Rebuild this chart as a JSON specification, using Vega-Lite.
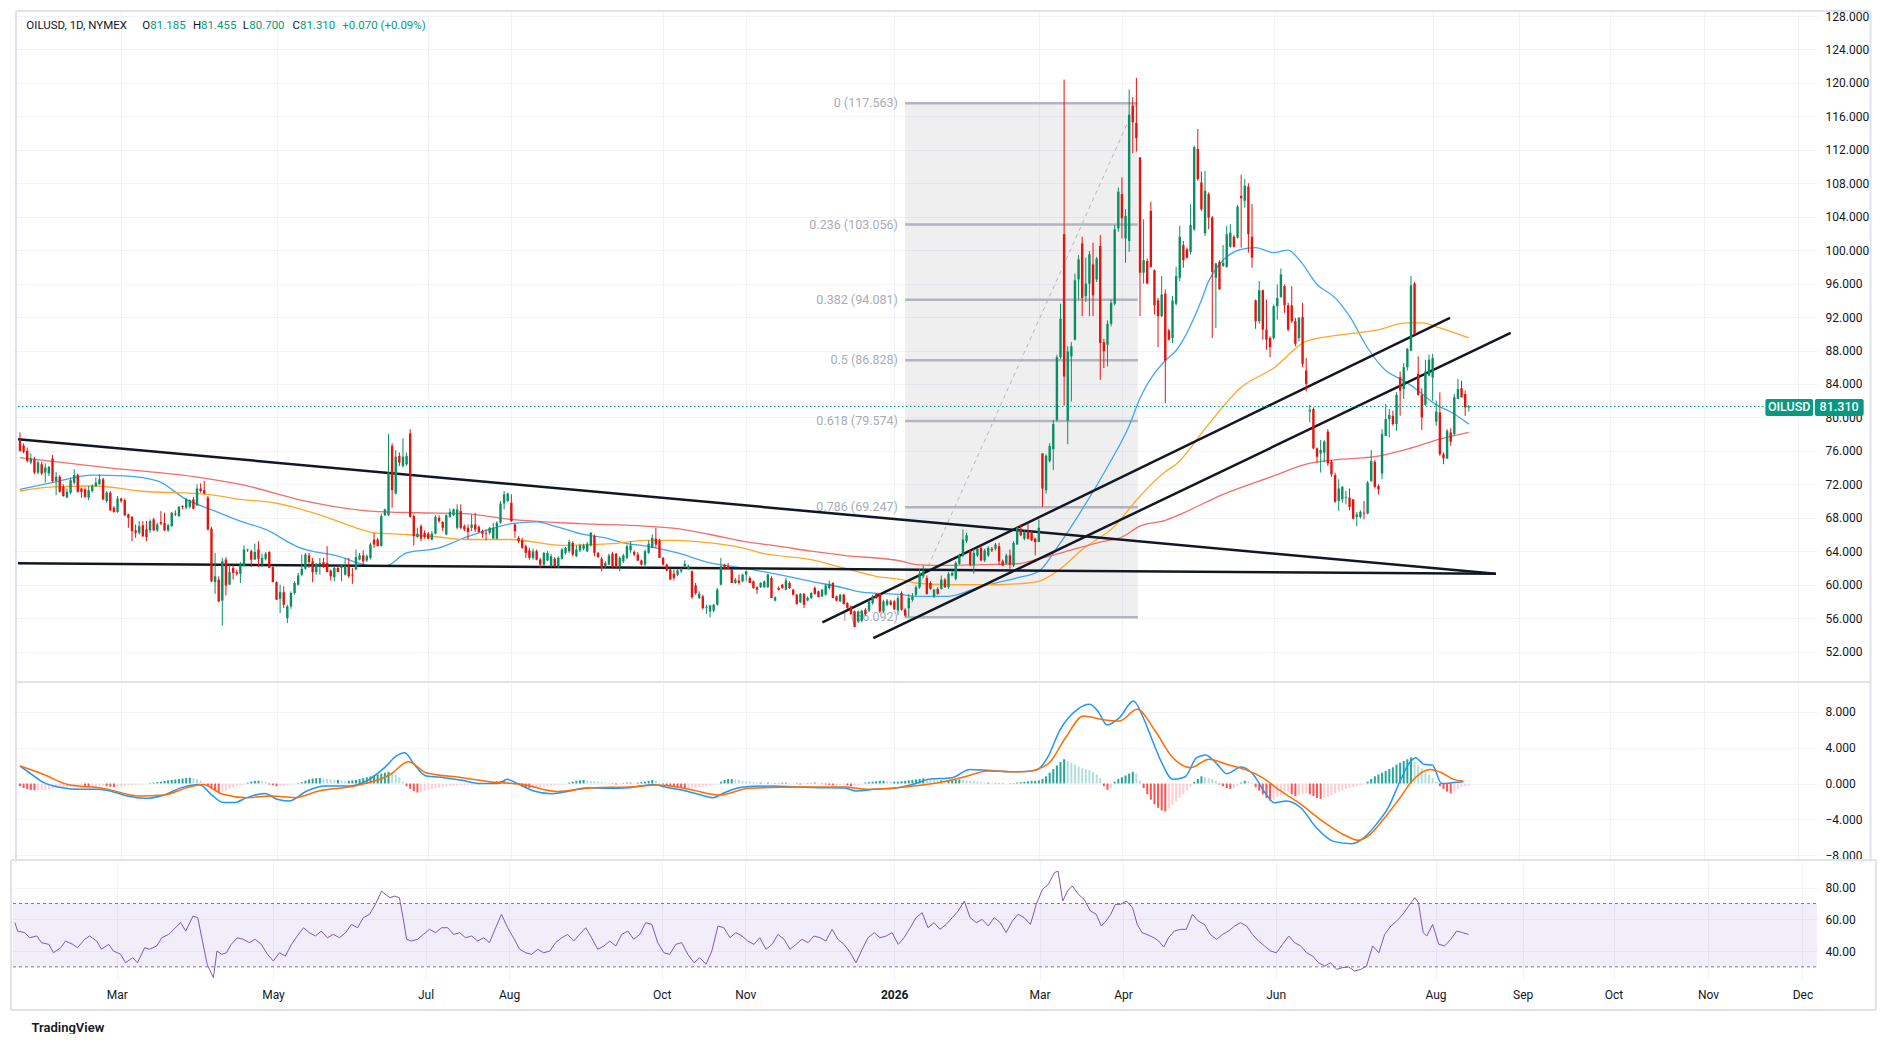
{
  "$schema": "https://vega.github.io/schema/vega-lite/v6.json",
  "background": "white",
  "padding": {"left": 10, "top": 9, "right": 0, "bottom": 0},
  "spacing": 2,
  "bounds": "flush",
  "config": {
    "font": "Roboto",
    "view": {"stroke": null},
    "axis": {"gridColor": "#f0f3fa", "gridWidth": 1, "domain": false, "ticks": false, "labelColor": "#131722", "labelFontSize": 12, "labelFlush": false, "labelFont": "Roboto"}
  },
  "datasets": {
    "bars": [
      {"i":0,"o":77.2,"h":78.2,"l":75.9,"c":76.0,"m":-0.3},
      {"i":1,"o":76.6,"h":76.9,"l":75.7,"c":75.9,"m":-0.5},
      {"i":2,"o":76.0,"h":76.4,"l":74.6,"c":74.8,"m":-0.6},
      {"i":3,"o":74.6,"h":75.7,"l":74.4,"c":75.1,"m":-0.7},
      {"i":4,"o":75.0,"h":75.3,"l":73.2,"c":73.4,"m":-0.75},
      {"i":5,"o":73.4,"h":74.8,"l":73.2,"c":74.6,"m":-0.75},
      {"i":6,"o":74.4,"h":74.7,"l":73.1,"c":73.3,"m":-0.7},
      {"i":7,"o":73.4,"h":74.5,"l":72.2,"c":74.0,"m":-0.7},
      {"i":8,"o":73.3,"h":74.2,"l":73.0,"c":74.1,"m":-0.65},
      {"i":9,"o":75.1,"h":75.5,"l":72.2,"c":72.4,"m":-0.6},
      {"i":10,"o":72.4,"h":73.5,"l":70.7,"c":72.9,"m":-0.5},
      {"i":11,"o":72.9,"h":73.1,"l":71.0,"c":71.1,"m":-0.45},
      {"i":12,"o":71.7,"h":72.0,"l":70.5,"c":70.6,"m":-0.4},
      {"i":13,"o":70.4,"h":71.5,"l":70.4,"c":71.1,"m":-0.4},
      {"i":14,"o":71.0,"h":72.8,"l":70.8,"c":72.5,"m":-0.35},
      {"i":15,"o":72.2,"h":73.8,"l":72.0,"c":73.1,"m":-0.35},
      {"i":16,"o":73.1,"h":73.3,"l":71.0,"c":71.1,"m":-0.3},
      {"i":17,"o":71.5,"h":71.6,"l":70.4,"c":71.1,"m":-0.3},
      {"i":18,"o":71.4,"h":71.6,"l":70.4,"c":70.5,"m":-0.35},
      {"i":19,"o":70.4,"h":71.8,"l":70.1,"c":71.3,"m":-0.4},
      {"i":20,"o":71.2,"h":72.0,"l":71.0,"c":71.8,"m":-0.35},
      {"i":21,"o":71.8,"h":72.8,"l":71.7,"c":72.2,"m":-0.3},
      {"i":22,"o":72.0,"h":73.2,"l":72.0,"c":72.6,"m":-0.3},
      {"i":23,"o":72.6,"h":72.8,"l":70.1,"c":70.2,"m":-0.25},
      {"i":24,"o":70.0,"h":71.2,"l":69.8,"c":71.0,"m":-0.3},
      {"i":25,"o":71.0,"h":71.2,"l":68.8,"c":68.9,"m":-0.35},
      {"i":26,"o":69.2,"h":69.4,"l":68.6,"c":68.7,"m":-0.4},
      {"i":27,"o":68.7,"h":70.6,"l":68.6,"c":70.3,"m":-0.35},
      {"i":28,"o":70.3,"h":70.4,"l":69.8,"c":70.0,"m":-0.3},
      {"i":29,"o":70.1,"h":70.3,"l":68.2,"c":68.3,"m":-0.25},
      {"i":30,"o":68.4,"h":68.5,"l":66.8,"c":68.0,"m":-0.2},
      {"i":31,"o":68.1,"h":68.2,"l":65.2,"c":66.4,"m":-0.2},
      {"i":32,"o":66.5,"h":67.2,"l":65.6,"c":66.2,"m":-0.15},
      {"i":33,"o":66.2,"h":67.6,"l":66.0,"c":67.0,"m":-0.1},
      {"i":34,"o":67.1,"h":67.6,"l":65.7,"c":65.8,"m":-0.1},
      {"i":35,"o":66.6,"h":67.6,"l":65.2,"c":65.7,"m":-0.05},
      {"i":36,"o":66.5,"h":67.8,"l":66.2,"c":67.6,"m":0.05},
      {"i":37,"o":67.8,"h":68.0,"l":66.4,"c":66.5,"m":0.1},
      {"i":38,"o":66.5,"h":67.4,"l":66.3,"c":67.2,"m":0.15},
      {"i":39,"o":67.5,"h":68.8,"l":67.1,"c":67.3,"m":0.2},
      {"i":40,"o":67.4,"h":68.6,"l":66.4,"c":66.5,"m":0.3},
      {"i":41,"o":66.5,"h":67.3,"l":66.3,"c":67.1,"m":0.35},
      {"i":42,"o":67.0,"h":68.7,"l":66.9,"c":68.6,"m":0.4},
      {"i":43,"o":68.5,"h":68.9,"l":68.2,"c":68.4,"m":0.45},
      {"i":44,"o":68.2,"h":69.4,"l":68.1,"c":69.3,"m":0.5},
      {"i":45,"o":69.4,"h":69.5,"l":69.0,"c":69.3,"m":0.55},
      {"i":46,"o":69.2,"h":70.4,"l":69.0,"c":70.2,"m":0.6},
      {"i":47,"o":69.3,"h":70.2,"l":69.1,"c":70.1,"m":0.65},
      {"i":48,"o":70.2,"h":70.5,"l":69.0,"c":69.1,"m":0.6},
      {"i":49,"o":69.5,"h":72.0,"l":69.4,"c":71.5,"m":0.5},
      {"i":50,"o":71.5,"h":72.1,"l":71.0,"c":71.2,"m":0.3},
      {"i":51,"o":71.3,"h":72.4,"l":70.8,"c":70.9,"m":0.1},
      {"i":52,"o":70.4,"h":70.6,"l":66.5,"c":66.6,"m":-0.3},
      {"i":53,"o":66.7,"h":66.9,"l":60.3,"c":60.4,"m":-0.6},
      {"i":54,"o":60.3,"h":63.8,"l":58.9,"c":61.0,"m":-0.8},
      {"i":55,"o":60.6,"h":61.0,"l":57.9,"c":58.0,"m":-1.0},
      {"i":56,"o":58.1,"h":63.2,"l":55.1,"c":62.8,"m":-0.95},
      {"i":57,"o":63.0,"h":63.3,"l":58.7,"c":59.9,"m":-0.8},
      {"i":58,"o":60.0,"h":62.4,"l":60.0,"c":61.5,"m":-0.6},
      {"i":59,"o":62.0,"h":62.4,"l":60.6,"c":61.4,"m":-0.4},
      {"i":60,"o":61.5,"h":61.8,"l":61.1,"c":61.3,"m":-0.3},
      {"i":61,"o":61.3,"h":62.7,"l":60.2,"c":62.4,"m":-0.2},
      {"i":62,"o":62.2,"h":64.7,"l":62.2,"c":64.2,"m":-0.1},
      {"i":63,"o":64.1,"h":64.3,"l":63.9,"c":64.2,"m":0.1},
      {"i":64,"o":64.0,"h":64.2,"l":62.1,"c":63.0,"m":0.2},
      {"i":65,"o":63.0,"h":64.9,"l":63.0,"c":63.9,"m":0.3},
      {"i":66,"o":64.2,"h":65.2,"l":62.1,"c":63.1,"m":0.3},
      {"i":67,"o":62.5,"h":63.7,"l":62.1,"c":63.2,"m":0.25},
      {"i":68,"o":63.1,"h":63.9,"l":62.9,"c":63.7,"m":0.15},
      {"i":69,"o":63.9,"h":64.0,"l":62.0,"c":62.0,"m":-0.1},
      {"i":70,"o":62.1,"h":62.2,"l":60.3,"c":60.3,"m":-0.2},
      {"i":71,"o":60.3,"h":60.4,"l":58.2,"c":58.2,"m":-0.3},
      {"i":72,"o":58.3,"h":60.0,"l":56.6,"c":59.1,"m":-0.3},
      {"i":73,"o":59.1,"h":59.8,"l":57.2,"c":57.6,"m":-0.25},
      {"i":74,"o":56.0,"h":57.6,"l":55.4,"c":57.4,"m":-0.2},
      {"i":75,"o":57.4,"h":59.2,"l":57.1,"c":59.0,"m":-0.1},
      {"i":76,"o":59.0,"h":60.4,"l":58.8,"c":60.2,"m":-0.05},
      {"i":77,"o":60.0,"h":61.4,"l":59.9,"c":61.1,"m":0.05},
      {"i":78,"o":61.2,"h":63.6,"l":61.0,"c":61.9,"m":0.15},
      {"i":79,"o":61.9,"h":63.8,"l":61.8,"c":63.6,"m":0.3},
      {"i":80,"o":63.5,"h":63.8,"l":62.0,"c":62.7,"m":0.45},
      {"i":81,"o":62.8,"h":63.2,"l":60.3,"c":61.5,"m":0.55},
      {"i":82,"o":61.5,"h":62.6,"l":61.2,"c":62.5,"m":0.6},
      {"i":83,"o":62.4,"h":63.2,"l":61.2,"c":62.6,"m":0.6},
      {"i":84,"o":62.7,"h":63.2,"l":62.0,"c":62.1,"m":0.55},
      {"i":85,"o":62.6,"h":64.6,"l":61.5,"c":61.5,"m":0.5},
      {"i":86,"o":61.7,"h":61.8,"l":60.5,"c":61.0,"m":0.45},
      {"i":87,"o":60.9,"h":62.2,"l":60.4,"c":62.0,"m":0.4},
      {"i":88,"o":62.0,"h":62.4,"l":61.5,"c":61.5,"m":0.4},
      {"i":89,"o":62.0,"h":62.5,"l":60.4,"c":62.4,"m":0.35},
      {"i":90,"o":61.2,"h":63.2,"l":61.1,"c":62.2,"m":0.3},
      {"i":91,"o":62.2,"h":63.2,"l":60.8,"c":61.0,"m":0.3},
      {"i":92,"o":61.2,"h":62.0,"l":60.1,"c":61.1,"m":0.35},
      {"i":93,"o":61.8,"h":64.2,"l":61.8,"c":63.3,"m":0.4},
      {"i":94,"o":63.0,"h":63.8,"l":62.9,"c":63.5,"m":0.5},
      {"i":95,"o":63.5,"h":64.1,"l":62.4,"c":62.8,"m":0.6},
      {"i":96,"o":62.9,"h":63.6,"l":62.7,"c":63.4,"m":0.7},
      {"i":97,"o":63.2,"h":65.0,"l":63.0,"c":64.8,"m":0.8},
      {"i":98,"o":65.4,"h":66.2,"l":64.4,"c":64.8,"m":0.9},
      {"i":99,"o":65.4,"h":65.6,"l":64.6,"c":64.6,"m":1.0},
      {"i":100,"o":64.6,"h":68.5,"l":64.6,"c":68.2,"m":1.1},
      {"i":101,"o":68.3,"h":69.1,"l":68.2,"c":69.0,"m":1.2},
      {"i":102,"o":68.3,"h":78.0,"l":68.2,"c":73.4,"m":1.3},
      {"i":103,"o":76.6,"h":76.9,"l":69.2,"c":71.3,"m":1.25},
      {"i":104,"o":70.9,"h":76.1,"l":70.8,"c":75.3,"m":1.0},
      {"i":105,"o":75.4,"h":75.8,"l":74.2,"c":74.6,"m":0.7},
      {"i":106,"o":74.2,"h":77.5,"l":74.0,"c":75.3,"m":0.2},
      {"i":107,"o":74.4,"h":75.8,"l":74.2,"c":75.4,"m":-0.3},
      {"i":108,"o":78.1,"h":78.6,"l":68.0,"c":68.1,"m":-0.6},
      {"i":109,"o":68.2,"h":68.4,"l":64.7,"c":65.8,"m":-0.85},
      {"i":110,"o":65.7,"h":66.8,"l":65.6,"c":66.1,"m":-1.0},
      {"i":111,"o":67.0,"h":67.2,"l":65.2,"c":65.5,"m":-0.95},
      {"i":112,"o":66.2,"h":66.5,"l":65.5,"c":65.7,"m":-0.85},
      {"i":113,"o":66.1,"h":66.3,"l":65.4,"c":65.5,"m":-0.7},
      {"i":114,"o":65.4,"h":66.4,"l":65.3,"c":66.1,"m":-0.6},
      {"i":115,"o":66.1,"h":68.3,"l":66.0,"c":68.1,"m":-0.5},
      {"i":116,"o":68.0,"h":68.3,"l":67.4,"c":67.6,"m":-0.45},
      {"i":117,"o":67.5,"h":67.6,"l":66.4,"c":66.8,"m":-0.4},
      {"i":118,"o":66.0,"h":68.4,"l":65.9,"c":68.3,"m":-0.35},
      {"i":119,"o":68.1,"h":69.1,"l":68.0,"c":68.7,"m":-0.3},
      {"i":120,"o":68.3,"h":69.1,"l":68.2,"c":69.0,"m":-0.25},
      {"i":121,"o":66.8,"h":69.6,"l":66.6,"c":69.0,"m":-0.25},
      {"i":122,"o":68.8,"h":69.6,"l":66.6,"c":66.8,"m":-0.2},
      {"i":123,"o":67.0,"h":67.2,"l":66.4,"c":66.6,"m":-0.2},
      {"i":124,"o":66.8,"h":67.2,"l":65.4,"c":66.3,"m":-0.15},
      {"i":125,"o":66.8,"h":68.4,"l":66.4,"c":67.2,"m":-0.15},
      {"i":126,"o":67.2,"h":68.6,"l":66.3,"c":66.6,"m":-0.1},
      {"i":127,"o":66.9,"h":67.1,"l":66.2,"c":66.3,"m":-0.1},
      {"i":128,"o":66.4,"h":66.6,"l":65.6,"c":66.1,"m":-0.05},
      {"i":129,"o":66.2,"h":66.6,"l":65.3,"c":66.1,"m":0.05},
      {"i":130,"o":66.2,"h":66.9,"l":66.0,"c":66.8,"m":0.1},
      {"i":131,"o":65.5,"h":67.4,"l":65.5,"c":66.8,"m":0.15},
      {"i":132,"o":65.5,"h":67.6,"l":65.4,"c":67.4,"m":0.25},
      {"i":133,"o":67.4,"h":70.0,"l":67.3,"c":69.7,"m":0.3},
      {"i":134,"o":69.7,"h":71.2,"l":69.0,"c":70.8,"m":0.3},
      {"i":135,"o":70.0,"h":71.0,"l":69.9,"c":70.9,"m":0.2},
      {"i":136,"o":69.8,"h":70.8,"l":67.5,"c":67.6,"m":0.1},
      {"i":137,"o":67.2,"h":67.3,"l":65.6,"c":66.4,"m":-0.1},
      {"i":138,"o":65.6,"h":65.8,"l":65.0,"c":65.2,"m":-0.2},
      {"i":139,"o":65.3,"h":65.6,"l":64.3,"c":64.4,"m":-0.35},
      {"i":140,"o":64.6,"h":64.8,"l":63.2,"c":63.8,"m":-0.45},
      {"i":141,"o":64.1,"h":64.4,"l":63.0,"c":63.2,"m":-0.5},
      {"i":142,"o":63.2,"h":64.3,"l":63.0,"c":64.0,"m":-0.5},
      {"i":143,"o":64.0,"h":64.2,"l":62.9,"c":63.0,"m":-0.45},
      {"i":144,"o":63.0,"h":63.2,"l":62.0,"c":62.4,"m":-0.4},
      {"i":145,"o":62.4,"h":63.9,"l":62.2,"c":63.8,"m":-0.35},
      {"i":146,"o":62.9,"h":64.0,"l":62.8,"c":63.8,"m":-0.3},
      {"i":147,"o":62.2,"h":63.7,"l":62.1,"c":63.4,"m":-0.25},
      {"i":148,"o":63.1,"h":63.3,"l":62.1,"c":62.2,"m":-0.2},
      {"i":149,"o":62.2,"h":63.4,"l":62.0,"c":63.2,"m":-0.15},
      {"i":150,"o":63.1,"h":64.4,"l":63.0,"c":64.2,"m":-0.1},
      {"i":151,"o":63.8,"h":64.5,"l":63.6,"c":64.4,"m":-0.05},
      {"i":152,"o":64.0,"h":65.4,"l":63.8,"c":65.1,"m":0.1},
      {"i":153,"o":65.0,"h":65.2,"l":63.4,"c":63.6,"m":0.2},
      {"i":154,"o":63.4,"h":64.7,"l":63.3,"c":64.2,"m":0.3},
      {"i":155,"o":64.1,"h":64.9,"l":63.9,"c":64.7,"m":0.35},
      {"i":156,"o":64.3,"h":64.9,"l":64.1,"c":64.7,"m":0.4},
      {"i":157,"o":64.0,"h":65.1,"l":63.9,"c":64.9,"m":0.35},
      {"i":158,"o":64.7,"h":66.3,"l":64.6,"c":66.2,"m":0.3},
      {"i":159,"o":65.8,"h":66.0,"l":63.4,"c":63.8,"m":0.25},
      {"i":160,"o":63.8,"h":63.9,"l":63.2,"c":63.3,"m":0.2},
      {"i":161,"o":63.1,"h":63.3,"l":61.6,"c":62.0,"m":0.15},
      {"i":162,"o":62.2,"h":62.8,"l":62.0,"c":62.6,"m":0.1},
      {"i":163,"o":62.4,"h":63.7,"l":62.3,"c":63.5,"m":0.05},
      {"i":164,"o":63.7,"h":63.9,"l":62.0,"c":62.2,"m":-0.05},
      {"i":165,"o":63.7,"h":63.8,"l":62.0,"c":62.1,"m":-0.1},
      {"i":166,"o":62.2,"h":63.4,"l":61.6,"c":63.2,"m":-0.05},
      {"i":167,"o":62.8,"h":63.7,"l":62.6,"c":63.5,"m":0.05},
      {"i":168,"o":63.2,"h":64.8,"l":63.0,"c":64.6,"m":0.1},
      {"i":169,"o":64.1,"h":65.2,"l":63.8,"c":64.7,"m":0.1},
      {"i":170,"o":63.9,"h":64.1,"l":63.4,"c":63.6,"m":0.05},
      {"i":171,"o":63.6,"h":63.9,"l":62.8,"c":62.9,"m":0.1},
      {"i":172,"o":62.9,"h":63.0,"l":62.3,"c":62.4,"m":0.15},
      {"i":173,"o":62.4,"h":64.2,"l":62.2,"c":64.0,"m":0.2},
      {"i":174,"o":63.8,"h":65.3,"l":63.7,"c":64.9,"m":0.3},
      {"i":175,"o":64.4,"h":66.0,"l":64.4,"c":65.6,"m":0.4},
      {"i":176,"o":65.5,"h":66.8,"l":64.4,"c":64.8,"m":0.3},
      {"i":177,"o":65.3,"h":65.5,"l":63.2,"c":63.2,"m":0.1},
      {"i":178,"o":63.2,"h":63.3,"l":62.3,"c":62.4,"m":-0.1},
      {"i":179,"o":62.4,"h":62.5,"l":61.6,"c":61.7,"m":-0.2},
      {"i":180,"o":61.8,"h":61.9,"l":60.6,"c":60.6,"m":-0.3},
      {"i":181,"o":61.3,"h":61.8,"l":60.5,"c":60.8,"m":-0.35},
      {"i":182,"o":61.2,"h":61.9,"l":61.0,"c":61.7,"m":-0.4},
      {"i":183,"o":61.6,"h":62.0,"l":61.4,"c":61.8,"m":-0.45},
      {"i":184,"o":62.2,"h":62.9,"l":62.0,"c":62.5,"m":-0.5},
      {"i":185,"o":61.9,"h":62.4,"l":61.8,"c":62.2,"m":-0.5},
      {"i":186,"o":61.6,"h":61.7,"l":58.3,"c":58.5,"m":-0.45},
      {"i":187,"o":59.9,"h":60.2,"l":58.8,"c":59.0,"m":-0.45},
      {"i":188,"o":58.4,"h":59.2,"l":58.3,"c":58.9,"m":-0.4},
      {"i":189,"o":58.6,"h":58.8,"l":57.0,"c":57.2,"m":-0.35},
      {"i":190,"o":57.2,"h":57.6,"l":56.5,"c":57.3,"m":-0.3},
      {"i":191,"o":56.8,"h":57.6,"l":56.1,"c":57.5,"m":-0.25},
      {"i":192,"o":56.9,"h":57.7,"l":56.7,"c":57.6,"m":-0.15},
      {"i":193,"o":57.6,"h":59.6,"l":57.5,"c":59.4,"m":-0.05},
      {"i":194,"o":60.0,"h":63.2,"l":59.9,"c":62.2,"m":0.2},
      {"i":195,"o":62.4,"h":62.5,"l":61.8,"c":62.0,"m":0.4},
      {"i":196,"o":62.2,"h":62.6,"l":61.8,"c":61.9,"m":0.5},
      {"i":197,"o":61.8,"h":61.9,"l":60.2,"c":60.2,"m":0.5},
      {"i":198,"o":60.2,"h":60.8,"l":60.1,"c":60.6,"m":0.45},
      {"i":199,"o":60.5,"h":61.2,"l":60.0,"c":60.2,"m":0.4},
      {"i":200,"o":60.4,"h":61.3,"l":60.3,"c":61.2,"m":0.3},
      {"i":201,"o":61.2,"h":61.7,"l":60.4,"c":61.6,"m":0.25},
      {"i":202,"o":60.8,"h":61.0,"l":60.2,"c":60.2,"m":0.2},
      {"i":203,"o":60.4,"h":60.5,"l":59.5,"c":59.6,"m":0.15},
      {"i":204,"o":59.7,"h":59.8,"l":58.9,"c":59.4,"m":0.1},
      {"i":205,"o":59.7,"h":60.3,"l":59.6,"c":60.2,"m":0.1},
      {"i":206,"o":59.7,"h":60.5,"l":59.6,"c":60.4,"m":0.05},
      {"i":207,"o":59.7,"h":61.3,"l":59.6,"c":61.2,"m":0.1},
      {"i":208,"o":60.8,"h":61.0,"l":58.4,"c":58.4,"m":0.05},
      {"i":209,"o":58.1,"h":58.6,"l":58.0,"c":58.5,"m":-0.05},
      {"i":210,"o":59.6,"h":59.8,"l":59.3,"c":59.4,"m":0.05},
      {"i":211,"o":60.0,"h":60.1,"l":59.5,"c":59.6,"m":0.1},
      {"i":212,"o":59.4,"h":60.8,"l":59.3,"c":60.5,"m":0.1},
      {"i":213,"o":60.2,"h":60.4,"l":59.5,"c":59.6,"m":0.05},
      {"i":214,"o":59.4,"h":59.5,"l":58.7,"c":58.8,"m":0.02},
      {"i":215,"o":58.8,"h":58.9,"l":57.6,"c":57.7,"m":-0.05},
      {"i":216,"o":57.9,"h":59.0,"l":57.8,"c":58.9,"m":-0.1},
      {"i":217,"o":58.9,"h":59.0,"l":57.2,"c":57.6,"m":-0.05},
      {"i":218,"o":58.1,"h":58.6,"l":58.0,"c":58.4,"m":0.05},
      {"i":219,"o":58.4,"h":59.1,"l":58.3,"c":59.0,"m":0.05},
      {"i":220,"o":59.6,"h":59.8,"l":58.8,"c":58.9,"m":0.1},
      {"i":221,"o":59.2,"h":59.3,"l":58.5,"c":58.5,"m":0.05},
      {"i":222,"o":58.6,"h":59.5,"l":58.5,"c":59.4,"m":-0.05},
      {"i":223,"o":58.8,"h":60.1,"l":58.7,"c":59.9,"m":-0.1},
      {"i":224,"o":59.6,"h":60.5,"l":59.4,"c":60.1,"m":-0.15},
      {"i":225,"o":60.2,"h":60.3,"l":58.4,"c":58.4,"m":-0.2},
      {"i":226,"o":58.6,"h":58.7,"l":58.0,"c":58.1,"m":-0.2},
      {"i":227,"o":58.0,"h":58.9,"l":57.9,"c":58.8,"m":-0.15},
      {"i":228,"o":58.8,"h":58.9,"l":57.6,"c":57.7,"m":-0.1},
      {"i":229,"o":57.8,"h":57.9,"l":57.1,"c":57.2,"m":-0.2},
      {"i":230,"o":57.4,"h":57.5,"l":56.4,"c":56.5,"m":-0.3},
      {"i":231,"o":56.8,"h":56.9,"l":54.9,"c":54.95,"m":-0.3},
      {"i":232,"o":55.6,"h":56.9,"l":55.4,"c":56.8,"m":-0.2},
      {"i":233,"o":55.7,"h":57.0,"l":55.5,"c":56.9,"m":-0.1},
      {"i":234,"o":57.0,"h":57.2,"l":56.3,"c":56.5,"m":0.1},
      {"i":235,"o":56.9,"h":58.2,"l":56.7,"c":58.0,"m":0.15},
      {"i":236,"o":57.8,"h":58.8,"l":57.6,"c":58.6,"m":0.2},
      {"i":237,"o":58.9,"h":59.0,"l":58.3,"c":58.4,"m":0.25},
      {"i":238,"o":58.9,"h":59.0,"l":56.6,"c":56.8,"m":0.3},
      {"i":239,"o":56.8,"h":58.2,"l":56.7,"c":58.0,"m":0.3},
      {"i":240,"o":57.6,"h":58.3,"l":57.4,"c":58.1,"m":0.25},
      {"i":241,"o":58.0,"h":58.2,"l":57.5,"c":57.6,"m":0.2},
      {"i":242,"o":58.0,"h":58.2,"l":57.0,"c":57.05,"m":0.2},
      {"i":243,"o":56.9,"h":58.7,"l":56.4,"c":58.4,"m":0.2},
      {"i":244,"o":59.0,"h":59.2,"l":56.9,"c":57.0,"m":0.25},
      {"i":245,"o":57.0,"h":57.2,"l":56.1,"c":56.3,"m":0.3},
      {"i":246,"o":57.2,"h":58.9,"l":56.2,"c":58.4,"m":0.35},
      {"i":247,"o":58.2,"h":59.0,"l":58.0,"c":58.6,"m":0.4},
      {"i":248,"o":58.8,"h":59.9,"l":58.6,"c":59.7,"m":0.45},
      {"i":249,"o":59.7,"h":61.9,"l":59.5,"c":61.3,"m":0.5},
      {"i":250,"o":61.0,"h":62.3,"l":60.8,"c":61.6,"m":0.55},
      {"i":251,"o":60.8,"h":61.1,"l":58.8,"c":58.9,"m":0.5},
      {"i":252,"o":60.2,"h":60.4,"l":59.4,"c":59.5,"m":0.45},
      {"i":253,"o":58.6,"h":59.5,"l":58.4,"c":59.4,"m":0.4},
      {"i":254,"o":59.5,"h":59.7,"l":58.8,"c":58.9,"m":0.35},
      {"i":255,"o":59.5,"h":61.1,"l":59.4,"c":60.6,"m":0.35},
      {"i":256,"o":60.6,"h":60.8,"l":59.6,"c":59.7,"m":0.3},
      {"i":257,"o":59.7,"h":61.5,"l":59.5,"c":61.3,"m":0.3},
      {"i":258,"o":61.1,"h":61.7,"l":61.0,"c":61.4,"m":0.35},
      {"i":259,"o":60.7,"h":62.8,"l":60.5,"c":62.6,"m":0.4},
      {"i":260,"o":62.5,"h":63.7,"l":62.4,"c":63.5,"m":0.45},
      {"i":261,"o":63.5,"h":66.6,"l":63.3,"c":65.4,"m":0.4},
      {"i":262,"o":65.2,"h":66.2,"l":65.0,"c":65.9,"m":0.35},
      {"i":263,"o":64.0,"h":64.2,"l":62.2,"c":62.4,"m":0.3},
      {"i":264,"o":62.3,"h":64.3,"l":61.3,"c":63.8,"m":0.25},
      {"i":265,"o":63.5,"h":64.4,"l":63.3,"c":64.3,"m":0.2},
      {"i":266,"o":64.4,"h":64.7,"l":62.8,"c":62.9,"m":0.15},
      {"i":267,"o":62.9,"h":64.3,"l":62.7,"c":64.1,"m":0.1},
      {"i":268,"o":63.5,"h":64.6,"l":63.3,"c":64.4,"m":0.1},
      {"i":269,"o":64.3,"h":64.5,"l":63.9,"c":64.1,"m":0.05},
      {"i":270,"o":64.3,"h":65.0,"l":64.1,"c":64.8,"m":0.05},
      {"i":271,"o":64.6,"h":65.0,"l":62.4,"c":62.8,"m":0.05},
      {"i":272,"o":62.8,"h":63.0,"l":62.2,"c":62.3,"m":0.05},
      {"i":273,"o":62.6,"h":63.7,"l":62.4,"c":63.5,"m":0.02},
      {"i":274,"o":63.5,"h":64.2,"l":61.9,"c":62.4,"m":-0.05},
      {"i":275,"o":62.3,"h":65.2,"l":62.1,"c":65.0,"m":0.05},
      {"i":276,"o":64.8,"h":67.0,"l":64.8,"c":66.8,"m":0.1},
      {"i":277,"o":66.7,"h":67.2,"l":65.8,"c":65.9,"m":0.15},
      {"i":278,"o":65.5,"h":66.5,"l":65.3,"c":66.3,"m":0.2},
      {"i":279,"o":66.4,"h":67.3,"l":65.4,"c":65.5,"m":0.25},
      {"i":280,"o":66.2,"h":66.4,"l":65.2,"c":65.3,"m":0.3},
      {"i":281,"o":65.5,"h":65.6,"l":63.5,"c":65.1,"m":0.3},
      {"i":282,"o":65.1,"h":67.8,"l":65.1,"c":66.8,"m":0.35},
      {"i":283,"o":75.7,"h":75.7,"l":69.3,"c":71.5,"m":0.5},
      {"i":284,"o":71.3,"h":75.6,"l":70.9,"c":75.4,"m":0.8},
      {"i":285,"o":74.8,"h":76.9,"l":74.6,"c":76.6,"m":1.2},
      {"i":286,"o":76.2,"h":79.7,"l":73.7,"c":79.2,"m":1.6},
      {"i":287,"o":79.7,"h":87.5,"l":79.5,"c":87.2,"m":2.0},
      {"i":288,"o":87.2,"h":93.6,"l":87.0,"c":91.8,"m":2.4},
      {"i":289,"o":101.9,"h":120.4,"l":81.4,"c":84.9,"m":2.7},
      {"i":290,"o":79.6,"h":88.5,"l":76.8,"c":87.9,"m":2.5},
      {"i":291,"o":87.3,"h":89.0,"l":81.9,"c":88.5,"m":2.3},
      {"i":292,"o":89.3,"h":97.2,"l":89.2,"c":96.4,"m":2.1},
      {"i":293,"o":96.5,"h":99.4,"l":94.1,"c":98.9,"m":1.9},
      {"i":294,"o":100.8,"h":101.6,"l":92.1,"c":94.3,"m":1.7},
      {"i":295,"o":94.5,"h":99.1,"l":93.8,"c":96.0,"m":1.6},
      {"i":296,"o":96.0,"h":99.9,"l":92.1,"c":99.5,"m":1.5},
      {"i":297,"o":98.3,"h":100.9,"l":92.1,"c":94.6,"m":1.3},
      {"i":298,"o":96.5,"h":99.2,"l":96.2,"c":99.0,"m":1.0},
      {"i":299,"o":100.5,"h":101.8,"l":84.5,"c":88.9,"m":0.6},
      {"i":300,"o":89.0,"h":89.4,"l":85.9,"c":87.9,"m":-0.3},
      {"i":301,"o":88.7,"h":91.6,"l":86.1,"c":91.2,"m":-0.7},
      {"i":302,"o":91.2,"h":94.1,"l":90.9,"c":93.7,"m":-0.5},
      {"i":303,"o":93.6,"h":103.0,"l":93.4,"c":102.5,"m":0.2},
      {"i":304,"o":102.6,"h":107.5,"l":102.2,"c":107.0,"m":0.5},
      {"i":305,"o":106.7,"h":108.7,"l":101.4,"c":103.8,"m":0.7},
      {"i":306,"o":101.4,"h":104.9,"l":98.5,"c":104.1,"m":0.9},
      {"i":307,"o":101.1,"h":119.2,"l":99.8,"c":116.2,"m":1.1},
      {"i":308,"o":117.3,"h":118.3,"l":111.6,"c":115.3,"m":1.3},
      {"i":309,"o":115.2,"h":120.6,"l":111.8,"c":113.4,"m":1.1},
      {"i":310,"o":111.1,"h":111.1,"l":92.1,"c":97.3,"m":0.3},
      {"i":311,"o":97.3,"h":103.7,"l":96.0,"c":98.8,"m":-0.5},
      {"i":312,"o":98.7,"h":99.0,"l":96.0,"c":96.0,"m":-1.2},
      {"i":313,"o":104.7,"h":105.8,"l":97.9,"c":98.0,"m":-1.8},
      {"i":314,"o":97.6,"h":97.7,"l":92.3,"c":93.4,"m":-2.3},
      {"i":315,"o":94.0,"h":94.3,"l":88.4,"c":92.1,"m":-2.7},
      {"i":316,"o":92.1,"h":96.9,"l":92.0,"c":94.7,"m":-3.0},
      {"i":317,"o":94.8,"h":95.3,"l":81.7,"c":86.8,"m":-3.1},
      {"i":318,"o":90.4,"h":90.6,"l":89.2,"c":89.3,"m":-2.8},
      {"i":319,"o":89.5,"h":94.5,"l":88.9,"c":94.0,"m":-2.4},
      {"i":320,"o":93.6,"h":98.0,"l":93.4,"c":96.9,"m":-2.0},
      {"i":321,"o":96.7,"h":102.9,"l":96.3,"c":101.6,"m":-1.6},
      {"i":322,"o":100.6,"h":101.1,"l":97.9,"c":98.8,"m":-1.2},
      {"i":323,"o":100.1,"h":100.3,"l":99.0,"c":99.1,"m":-0.8},
      {"i":324,"o":99.8,"h":105.5,"l":99.5,"c":103.0,"m":-0.4},
      {"i":325,"o":102.5,"h":112.5,"l":102.3,"c":112.3,"m":0.2},
      {"i":326,"o":112.1,"h":114.5,"l":108.3,"c":108.5,"m":0.5},
      {"i":327,"o":108.1,"h":109.4,"l":104.7,"c":104.9,"m":0.8},
      {"i":328,"o":102.0,"h":109.5,"l":101.7,"c":107.1,"m":0.7},
      {"i":329,"o":106.7,"h":106.9,"l":102.5,"c":103.9,"m":0.6},
      {"i":330,"o":103.9,"h":104.1,"l":89.5,"c":97.4,"m":0.5},
      {"i":331,"o":96.7,"h":98.5,"l":90.7,"c":98.4,"m":0.3},
      {"i":332,"o":98.6,"h":98.8,"l":95.3,"c":95.3,"m":-0.1},
      {"i":333,"o":98.1,"h":100.6,"l":98.0,"c":98.5,"m":-0.3},
      {"i":334,"o":98.0,"h":102.9,"l":97.9,"c":101.9,"m":-0.5},
      {"i":335,"o":100.4,"h":103.1,"l":100.3,"c":102.1,"m":-0.6},
      {"i":336,"o":101.6,"h":101.8,"l":100.3,"c":100.4,"m":-0.5},
      {"i":337,"o":101.5,"h":105.4,"l":101.4,"c":105.2,"m":-0.3},
      {"i":338,"o":106.5,"h":109.0,"l":100.3,"c":106.2,"m":0.1},
      {"i":339,"o":105.9,"h":108.5,"l":105.1,"c":107.7,"m":0.3},
      {"i":340,"o":107.6,"h":108.0,"l":99.7,"c":101.9,"m":0.25},
      {"i":341,"o":101.6,"h":105.5,"l":97.9,"c":99.1,"m":0.1},
      {"i":342,"o":94.0,"h":94.1,"l":90.6,"c":91.5,"m":-0.4},
      {"i":343,"o":91.5,"h":96.3,"l":91.2,"c":95.2,"m":-0.8},
      {"i":344,"o":95.2,"h":95.3,"l":89.3,"c":90.5,"m":-1.2},
      {"i":345,"o":90.5,"h":94.1,"l":88.1,"c":89.3,"m":-1.6},
      {"i":346,"o":89.5,"h":89.7,"l":87.2,"c":88.4,"m":-1.9},
      {"i":347,"o":89.5,"h":93.5,"l":89.3,"c":93.3,"m":-1.8},
      {"i":348,"o":93.3,"h":95.9,"l":91.7,"c":94.3,"m":-1.5},
      {"i":349,"o":94.4,"h":97.8,"l":94.3,"c":97.1,"m":-1.3},
      {"i":350,"o":95.7,"h":95.9,"l":92.5,"c":93.4,"m":-1.1},
      {"i":351,"o":93.4,"h":93.7,"l":90.3,"c":90.5,"m":-1.0},
      {"i":352,"o":93.4,"h":95.7,"l":91.3,"c":91.5,"m":-1.2},
      {"i":353,"o":91.5,"h":91.9,"l":88.5,"c":88.8,"m":-1.4},
      {"i":354,"o":89.5,"h":92.0,"l":89.1,"c":91.9,"m":-1.3},
      {"i":355,"o":92.0,"h":93.7,"l":86.0,"c":86.4,"m":-1.2},
      {"i":356,"o":85.6,"h":87.1,"l":83.1,"c":84.0,"m":-1.1},
      {"i":357,"o":80.7,"h":81.5,"l":79.4,"c":80.9,"m":-1.2},
      {"i":358,"o":81.0,"h":81.2,"l":76.2,"c":76.3,"m":-1.4},
      {"i":359,"o":76.3,"h":76.4,"l":74.6,"c":75.3,"m":-1.6},
      {"i":360,"o":75.7,"h":77.3,"l":73.4,"c":76.1,"m":-1.7},
      {"i":361,"o":75.8,"h":77.3,"l":74.6,"c":77.1,"m":-1.6},
      {"i":362,"o":78.3,"h":78.6,"l":74.2,"c":74.5,"m":-1.5},
      {"i":363,"o":74.7,"h":74.9,"l":72.9,"c":73.2,"m":-1.3},
      {"i":364,"o":73.1,"h":73.4,"l":69.8,"c":69.9,"m":-1.1},
      {"i":365,"o":70.0,"h":72.6,"l":68.8,"c":71.5,"m":-0.9},
      {"i":366,"o":70.2,"h":71.8,"l":69.8,"c":71.7,"m":-0.8},
      {"i":367,"o":70.4,"h":71.2,"l":69.6,"c":70.5,"m":-0.6},
      {"i":368,"o":70.4,"h":71.5,"l":68.9,"c":69.3,"m":-0.5},
      {"i":369,"o":70.2,"h":70.2,"l":67.8,"c":67.9,"m":-0.4},
      {"i":370,"o":68.1,"h":68.7,"l":67.0,"c":68.4,"m":-0.3},
      {"i":371,"o":68.1,"h":68.9,"l":67.9,"c":68.7,"m":-0.2},
      {"i":372,"o":68.6,"h":70.0,"l":67.8,"c":68.5,"m":-0.05},
      {"i":373,"o":68.5,"h":72.4,"l":68.4,"c":72.2,"m":0.2},
      {"i":374,"o":72.4,"h":76.1,"l":72.3,"c":74.8,"m":0.5},
      {"i":375,"o":74.7,"h":74.9,"l":71.5,"c":71.7,"m":0.8},
      {"i":376,"o":71.8,"h":72.0,"l":70.8,"c":71.4,"m":1.0},
      {"i":377,"o":73.3,"h":78.6,"l":72.6,"c":78.0,"m":1.2},
      {"i":378,"o":77.8,"h":81.6,"l":77.8,"c":79.8,"m":1.4},
      {"i":379,"o":79.8,"h":81.0,"l":77.6,"c":80.3,"m":1.6},
      {"i":380,"o":80.2,"h":80.8,"l":79.0,"c":79.2,"m":1.8},
      {"i":381,"o":79.2,"h":83.0,"l":78.4,"c":82.7,"m":2.1},
      {"i":382,"o":84.8,"h":85.5,"l":80.2,"c":83.2,"m":2.3},
      {"i":383,"o":83.4,"h":86.5,"l":82.2,"c":86.0,"m":2.5},
      {"i":384,"o":86.0,"h":88.3,"l":85.6,"c":88.2,"m":2.7},
      {"i":385,"o":88.0,"h":96.9,"l":87.9,"c":95.8,"m":2.9},
      {"i":386,"o":96.0,"h":96.2,"l":89.9,"c":90.0,"m":2.4},
      {"i":387,"o":85.2,"h":87.3,"l":82.6,"c":82.7,"m":2.0},
      {"i":388,"o":82.7,"h":83.5,"l":78.5,"c":80.0,"m":1.7},
      {"i":389,"o":81.5,"h":86.9,"l":81.4,"c":85.5,"m":1.3},
      {"i":390,"o":85.0,"h":87.5,"l":84.9,"c":86.9,"m":1.0},
      {"i":391,"o":84.8,"h":87.6,"l":82.0,"c":87.1,"m":0.6},
      {"i":392,"o":79.5,"h":82.0,"l":79.0,"c":80.7,"m":0.2},
      {"i":393,"o":80.6,"h":83.0,"l":75.4,"c":75.6,"m":-0.3},
      {"i":394,"o":75.6,"h":75.8,"l":74.4,"c":75.1,"m":-0.6},
      {"i":395,"o":75.1,"h":78.6,"l":75.0,"c":78.4,"m":-0.9},
      {"i":396,"o":78.2,"h":78.7,"l":76.6,"c":77.1,"m":-1.1},
      {"i":397,"o":78.0,"h":82.8,"l":77.8,"c":82.4,"m":-0.9},
      {"i":398,"o":82.2,"h":84.6,"l":82.2,"c":83.4,"m":-0.6},
      {"i":399,"o":83.5,"h":84.4,"l":82.4,"c":82.4,"m":-0.4},
      {"i":400,"o":82.8,"h":83.2,"l":80.2,"c":81.2,"m":-0.3},
      {"i":401,"o":81.185,"h":81.455,"l":80.7,"c":81.31,"m":-0.25}
    ],
    "ma": [
      {"s":"b","i":0,"v":71.4},{"s":"b","i":10,"v":72.3},{"s":"b","i":20,"v":73.1},{"s":"b","i":29,"v":73.0},{"s":"b","i":38,"v":72.4},{"s":"b","i":46,"v":70.2},{"s":"b","i":54,"v":68.8},{"s":"b","i":61,"v":67.6},{"s":"b","i":68,"v":66.6},{"s":"b","i":77,"v":64.5},{"s":"b","i":88,"v":63.4},{"s":"b","i":98,"v":62.2},{"s":"b","i":101,"v":62.2},{"s":"b","i":107,"v":63.8},{"s":"b","i":116,"v":64.4},{"s":"b","i":123,"v":65.6},{"s":"b","i":127,"v":66.2},{"s":"b","i":136,"v":67.3},{"s":"b","i":143,"v":67.5},{"s":"b","i":148,"v":67.0},{"s":"b","i":156,"v":66.0},{"s":"b","i":162,"v":65.6},{"s":"b","i":167,"v":65.0},{"s":"b","i":175,"v":64.5},{"s":"b","i":182,"v":63.8},{"s":"b","i":191,"v":62.6},{"s":"b","i":200,"v":62.0},{"s":"b","i":210,"v":61.2},{"s":"b","i":219,"v":60.4},{"s":"b","i":228,"v":59.6},{"s":"b","i":233,"v":59.1},{"s":"b","i":244,"v":58.8},{"s":"b","i":248,"v":58.6},{"s":"b","i":257,"v":58.6},{"s":"b","i":266,"v":59.8},{"s":"b","i":276,"v":60.8},{"s":"b","i":282,"v":61.6},{"s":"b","i":287,"v":64.4},{"s":"b","i":294,"v":69.0},{"s":"b","i":301,"v":74.1},{"s":"b","i":307,"v":79.0},{"s":"b","i":310,"v":82.3},{"s":"b","i":317,"v":86.8},{"s":"b","i":320,"v":88.0},{"s":"b","i":327,"v":94.0},{"s":"b","i":329,"v":96.3},{"s":"b","i":338,"v":100.1},{"s":"b","i":342,"v":100.3},{"s":"b","i":347,"v":99.7},{"s":"b","i":351,"v":100.0},{"s":"b","i":354,"v":98.9},{"s":"b","i":359,"v":95.9},{"s":"b","i":364,"v":94.3},{"s":"b","i":368,"v":92.1},{"s":"b","i":373,"v":88.3},{"s":"b","i":378,"v":85.6},{"s":"b","i":383,"v":84.4},{"s":"b","i":387,"v":83.2},{"s":"b","i":391,"v":81.8},{"s":"b","i":397,"v":80.4},{"s":"b","i":401,"v":79.2},
      {"s":"o","i":0,"v":71.2},{"s":"o","i":9,"v":71.7},{"s":"o","i":21,"v":71.8},{"s":"o","i":33,"v":71.2},{"s":"o","i":52,"v":70.8},{"s":"o","i":61,"v":70.2},{"s":"o","i":70,"v":69.8},{"s":"o","i":84,"v":68.2},{"s":"o","i":93,"v":66.8},{"s":"o","i":98,"v":66.2},{"s":"o","i":107,"v":66.0},{"s":"o","i":116,"v":65.7},{"s":"o","i":123,"v":65.4},{"s":"o","i":136,"v":65.4},{"s":"o","i":150,"v":64.7},{"s":"o","i":164,"v":64.9},{"s":"o","i":173,"v":65.3},{"s":"o","i":182,"v":65.3},{"s":"o","i":191,"v":65.0},{"s":"o","i":200,"v":64.4},{"s":"o","i":205,"v":63.8},{"s":"o","i":219,"v":63.0},{"s":"o","i":228,"v":62.0},{"s":"o","i":237,"v":61.0},{"s":"o","i":244,"v":60.6},{"s":"o","i":248,"v":60.2},{"s":"o","i":257,"v":60.0},{"s":"o","i":266,"v":60.0},{"s":"o","i":276,"v":60.1},{"s":"o","i":282,"v":60.4},{"s":"o","i":288,"v":61.9},{"s":"o","i":294,"v":64.2},{"s":"o","i":303,"v":67.0},{"s":"o","i":309,"v":70.1},{"s":"o","i":317,"v":73.5},{"s":"o","i":320,"v":74.4},{"s":"o","i":329,"v":79.2},{"s":"o","i":338,"v":83.6},{"s":"o","i":347,"v":85.9},{"s":"o","i":356,"v":89.1},{"s":"o","i":366,"v":89.9},{"s":"o","i":375,"v":90.4},{"s":"o","i":384,"v":91.3},{"s":"o","i":388,"v":91.3},{"s":"o","i":393,"v":90.7},{"s":"o","i":401,"v":89.5},
      {"s":"r","i":0,"v":75.2},{"s":"r","i":24,"v":74.0},{"s":"r","i":50,"v":72.8},{"s":"r","i":62,"v":71.9},{"s":"r","i":79,"v":70.0},{"s":"r","i":97,"v":68.8},{"s":"r","i":110,"v":68.6},{"s":"r","i":123,"v":68.5},{"s":"r","i":136,"v":67.8},{"s":"r","i":155,"v":67.3},{"s":"r","i":173,"v":67.0},{"s":"r","i":182,"v":66.7},{"s":"r","i":191,"v":66.0},{"s":"r","i":200,"v":65.2},{"s":"r","i":210,"v":64.6},{"s":"r","i":219,"v":64.0},{"s":"r","i":228,"v":63.5},{"s":"r","i":244,"v":62.8},{"s":"r","i":248,"v":62.4},{"s":"r","i":257,"v":62.3},{"s":"r","i":266,"v":62.4},{"s":"r","i":276,"v":62.5},{"s":"r","i":282,"v":63.1},{"s":"r","i":289,"v":63.9},{"s":"r","i":299,"v":65.1},{"s":"r","i":305,"v":65.7},{"s":"r","i":310,"v":67.0},{"s":"r","i":317,"v":67.7},{"s":"r","i":320,"v":68.2},{"s":"r","i":333,"v":70.8},{"s":"r","i":347,"v":73.0},{"s":"r","i":356,"v":74.4},{"s":"r","i":366,"v":75.0},{"s":"r","i":375,"v":75.3},{"s":"r","i":384,"v":76.2},{"s":"r","i":393,"v":77.4},{"s":"r","i":401,"v":78.2}
    ],
    "tl": [
      {"k":"a","i":-0.55,"p":77.4},{"k":"a","i":408.5,"p":61.3},
      {"k":"b","i":-0.55,"p":62.55},{"k":"b","i":408.5,"p":61.3},
      {"k":"c","i":222.1,"p":55.5},{"k":"c","i":395.8,"p":91.9},
      {"k":"d","i":236.2,"p":53.6},{"k":"d","i":412.6,"p":90.1}
    ],
    "fib": [
      {"p":117.563,"t":"0 (117.563)"},
      {"p":103.056,"t":"0.236 (103.056)"},
      {"p":94.081,"t":"0.382 (94.081)"},
      {"p":86.828,"t":"0.5 (86.828)"},
      {"p":79.574,"t":"0.618 (79.574)"},
      {"p":69.247,"t":"0.786 (69.247)"},
      {"p":56.092,"t":"1 (56.092)"}
    ],
    "hdr": [
      {"t":"OILUSD, 1D, NYMEX","i":1.76,"g":"k"},
      {"t":"O","i":33.86,"g":"k"},{"t":"81.185","i":36.06,"g":"v"},
      {"t":"H","i":47.9,"g":"k"},{"t":"81.455","i":50.1,"g":"v"},
      {"t":"L","i":61.66,"g":"k"},{"t":"80.700","i":63.45,"g":"v"},
      {"t":"C","i":75.42,"g":"k"},{"t":"81.310","i":77.48,"g":"v"},
      {"t":"+0.070 (+0.09%)","i":89.18,"g":"v"}
    ],
    "macd": [
      {"s":"m","i":0,"v":1.94},{"s":"m","i":3.3,"v":1.0},{"s":"m","i":6.6,"v":0.1},{"s":"m","i":11.6,"v":-0.46},{"s":"m","i":16.5,"v":-0.65},{"s":"m","i":21.5,"v":-0.65},{"s":"m","i":26.5,"v":-1.0},{"s":"m","i":29.8,"v":-1.4},{"s":"m","i":34.7,"v":-1.65},{"s":"m","i":39.7,"v":-1.3},{"s":"m","i":44.7,"v":-0.46},{"s":"m","i":49.6,"v":-0.1},{"s":"m","i":52.9,"v":-1.2},{"s":"m","i":56.2,"v":-2.1},{"s":"m","i":59.5,"v":-2.1},{"s":"m","i":62.8,"v":-1.57},{"s":"m","i":67.8,"v":-1.1},{"s":"m","i":71.1,"v":-1.75},{"s":"m","i":74.4,"v":-1.95},{"s":"m","i":79.4,"v":-0.83},{"s":"m","i":84.3,"v":-0.28},{"s":"m","i":91.0,"v":-0.28},{"s":"m","i":95.9,"v":0.28},{"s":"m","i":100.9,"v":1.76},{"s":"m","i":104.2,"v":3.06},{"s":"m","i":106.5,"v":3.43},{"s":"m","i":109.1,"v":2.13},{"s":"m","i":112.4,"v":0.83},{"s":"m","i":117.4,"v":0.65},{"s":"m","i":122.4,"v":0.35},{"s":"m","i":127.3,"v":0.0},{"s":"m","i":132.3,"v":0.0},{"s":"m","i":134.9,"v":0.46},{"s":"m","i":137.2,"v":0.1},{"s":"m","i":142.2,"v":-0.83},{"s":"m","i":147.2,"v":-1.13},{"s":"m","i":152.1,"v":-0.83},{"s":"m","i":157.1,"v":-0.46},{"s":"m","i":162.1,"v":-0.54},{"s":"m","i":168.7,"v":-0.46},{"s":"m","i":175.3,"v":-0.1},{"s":"m","i":178.6,"v":-0.39},{"s":"m","i":183.5,"v":-0.76},{"s":"m","i":188.5,"v":-1.28},{"s":"m","i":191.8,"v":-1.57},{"s":"m","i":195.1,"v":-1.0},{"s":"m","i":200.1,"v":-0.39},{"s":"m","i":208.4,"v":-0.28},{"s":"m","i":215.0,"v":-0.39},{"s":"m","i":221.6,"v":-0.46},{"s":"m","i":228.2,"v":-0.5},{"s":"m","i":231.5,"v":-0.83},{"s":"m","i":236.5,"v":-0.65},{"s":"m","i":243.1,"v":-0.46},{"s":"m","i":248.0,"v":0.0},{"s":"m","i":251.3,"v":0.46},{"s":"m","i":258.0,"v":0.65},{"s":"m","i":262.9,"v":1.57},{"s":"m","i":267.9,"v":1.46},{"s":"m","i":274.5,"v":1.3},{"s":"m","i":281.1,"v":1.46},{"s":"m","i":284.4,"v":2.87},{"s":"m","i":287.7,"v":5.83},{"s":"m","i":292.7,"v":8.24},{"s":"m","i":296.0,"v":8.8},{"s":"m","i":298.3,"v":8.06},{"s":"m","i":300.9,"v":6.5},{"s":"m","i":304.3,"v":7.31},{"s":"m","i":308.2,"v":9.17},{"s":"m","i":310.9,"v":7.31},{"s":"m","i":313.5,"v":4.72},{"s":"m","i":315.8,"v":2.5},{"s":"m","i":319.1,"v":0.46},{"s":"m","i":322.4,"v":0.72},{"s":"m","i":325.7,"v":2.87},{"s":"m","i":328.1,"v":3.17},{"s":"m","i":331.4,"v":2.13},{"s":"m","i":334.0,"v":1.09},{"s":"m","i":338.0,"v":1.83},{"s":"m","i":341.3,"v":1.02},{"s":"m","i":344.6,"v":-1.02},{"s":"m","i":347.2,"v":-2.13},{"s":"m","i":350.6,"v":-1.94},{"s":"m","i":354.5,"v":-2.69},{"s":"m","i":358.8,"v":-4.9},{"s":"m","i":363.8,"v":-6.46},{"s":"m","i":368.7,"v":-6.69},{"s":"m","i":372.0,"v":-6.02},{"s":"m","i":375.4,"v":-4.54},{"s":"m","i":378.7,"v":-2.69},{"s":"m","i":382.0,"v":0.28},{"s":"m","i":384.3,"v":2.13},{"s":"m","i":386.3,"v":2.87},{"s":"m","i":388.6,"v":2.13},{"s":"m","i":390.9,"v":2.06},{"s":"m","i":393.5,"v":0.0},{"s":"m","i":396.8,"v":0.1},{"s":"m","i":399.5,"v":0.2},
      {"s":"s","i":0,"v":1.94},{"s":"s","i":6.6,"v":1.0},{"s":"s","i":13.2,"v":-0.1},{"s":"s","i":23.2,"v":-0.54},{"s":"s","i":33.1,"v":-1.39},{"s":"s","i":39.7,"v":-1.28},{"s":"s","i":46.3,"v":-0.46},{"s":"s","i":50.6,"v":-0.1},{"s":"s","i":56.2,"v":-1.2},{"s":"s","i":62.8,"v":-1.57},{"s":"s","i":69.5,"v":-1.4},{"s":"s","i":76.1,"v":-1.57},{"s":"s","i":82.7,"v":-0.83},{"s":"s","i":92.6,"v":-0.28},{"s":"s","i":102.5,"v":1.0},{"s":"s","i":107.5,"v":2.43},{"s":"s","i":112.4,"v":1.2},{"s":"s","i":122.4,"v":0.65},{"s":"s","i":132.3,"v":0.1},{"s":"s","i":138.9,"v":-0.09},{"s":"s","i":148.8,"v":-0.9},{"s":"s","i":158.7,"v":-0.46},{"s":"s","i":168.7,"v":-0.39},{"s":"s","i":176.9,"v":-0.17},{"s":"s","i":185.2,"v":-0.65},{"s":"s","i":193.5,"v":-1.28},{"s":"s","i":201.7,"v":-0.54},{"s":"s","i":215.0,"v":-0.39},{"s":"s","i":228.2,"v":-0.39},{"s":"s","i":234.8,"v":-0.65},{"s":"s","i":244.7,"v":-0.39},{"s":"s","i":254.6,"v":0.1},{"s":"s","i":261.3,"v":0.72},{"s":"s","i":267.9,"v":1.39},{"s":"s","i":277.8,"v":1.3},{"s":"s","i":284.4,"v":2.13},{"s":"s","i":289.4,"v":5.09},{"s":"s","i":294.3,"v":7.5},{"s":"s","i":299.3,"v":7.13},{"s":"s","i":304.3,"v":6.94},{"s":"s","i":309.2,"v":8.24},{"s":"s","i":314.2,"v":5.83},{"s":"s","i":319.1,"v":2.87},{"s":"s","i":324.1,"v":1.76},{"s":"s","i":329.1,"v":2.69},{"s":"s","i":334.0,"v":2.13},{"s":"s","i":339.0,"v":1.57},{"s":"s","i":343.9,"v":0.65},{"s":"s","i":348.9,"v":-0.83},{"s":"s","i":353.9,"v":-2.13},{"s":"s","i":360.5,"v":-4.17},{"s":"s","i":367.1,"v":-5.83},{"s":"s","i":370.4,"v":-6.31},{"s":"s","i":373.7,"v":-5.65},{"s":"s","i":377.0,"v":-4.17},{"s":"s","i":382.0,"v":-1.57},{"s":"s","i":385.3,"v":0.28},{"s":"s","i":390.2,"v":1.57},{"s":"s","i":393.5,"v":1.2},{"s":"s","i":396.8,"v":0.46},{"s":"s","i":399.5,"v":0.28}
    ],
    "rsi": [
      {"i":0,"v":57.9},{"i":0.7,"v":52.6},{"i":2.7,"v":51.6},{"i":4.0,"v":48.4},{"i":6.0,"v":49.5},{"i":7.3,"v":45.3},{"i":9.3,"v":44.2},{"i":10.6,"v":38.9},{"i":12.6,"v":42.1},{"i":13.9,"v":46.3},{"i":15.9,"v":44.2},{"i":17.2,"v":42.1},{"i":19.2,"v":47.4},{"i":20.5,"v":49.5},{"i":22.5,"v":46.3},{"i":23.8,"v":41.1},{"i":25.8,"v":44.2},{"i":27.1,"v":40.0},{"i":29.1,"v":37.9},{"i":30.4,"v":32.6},{"i":32.4,"v":35.8},{"i":33.7,"v":32.6},{"i":35.7,"v":42.1},{"i":37.0,"v":41.1},{"i":39.0,"v":43.2},{"i":40.4,"v":48.4},{"i":42.3,"v":50.5},{"i":43.7,"v":53.7},{"i":45.6,"v":57.9},{"i":47.0,"v":52.6},{"i":49.0,"v":62.1},{"i":50.3,"v":61.1},{"i":51.6,"v":46.3},{"i":52.9,"v":31.6},{"i":54.6,"v":23.2},{"i":55.6,"v":40.0},{"i":56.9,"v":37.9},{"i":58.2,"v":38.9},{"i":59.5,"v":44.2},{"i":61.2,"v":48.4},{"i":62.8,"v":47.4},{"i":64.5,"v":45.3},{"i":66.1,"v":47.4},{"i":67.8,"v":44.2},{"i":69.5,"v":37.9},{"i":71.1,"v":33.7},{"i":72.8,"v":38.9},{"i":74.4,"v":36.8},{"i":76.1,"v":44.2},{"i":77.7,"v":49.5},{"i":79.4,"v":54.7},{"i":81.0,"v":51.6},{"i":82.7,"v":49.5},{"i":84.3,"v":52.6},{"i":86.0,"v":48.4},{"i":87.6,"v":50.5},{"i":89.3,"v":48.4},{"i":91.0,"v":51.6},{"i":92.6,"v":56.8},{"i":94.3,"v":54.7},{"i":95.9,"v":61.1},{"i":97.6,"v":63.2},{"i":99.2,"v":69.5},{"i":100.9,"v":77.9},{"i":101.9,"v":75.8},{"i":103.2,"v":73.7},{"i":104.5,"v":74.7},{"i":105.8,"v":73.7},{"i":106.8,"v":61.1},{"i":107.8,"v":47.4},{"i":109.1,"v":46.3},{"i":110.8,"v":47.4},{"i":112.4,"v":50.5},{"i":114.1,"v":53.7},{"i":115.8,"v":51.6},{"i":117.4,"v":54.7},{"i":119.1,"v":54.7},{"i":120.7,"v":50.5},{"i":122.4,"v":51.6},{"i":124.0,"v":48.4},{"i":125.7,"v":49.5},{"i":127.3,"v":46.3},{"i":129.0,"v":48.4},{"i":130.6,"v":45.3},{"i":132.3,"v":54.7},{"i":133.9,"v":63.2},{"i":135.6,"v":54.7},{"i":137.2,"v":48.4},{"i":138.9,"v":41.1},{"i":140.6,"v":38.9},{"i":142.2,"v":37.9},{"i":143.9,"v":41.1},{"i":145.5,"v":38.9},{"i":147.2,"v":40.0},{"i":148.8,"v":45.3},{"i":150.5,"v":48.4},{"i":152.1,"v":50.5},{"i":153.8,"v":46.3},{"i":155.4,"v":50.5},{"i":157.1,"v":54.7},{"i":158.7,"v":48.4},{"i":160.4,"v":41.1},{"i":162.1,"v":43.2},{"i":163.7,"v":46.3},{"i":165.4,"v":43.2},{"i":167.0,"v":50.5},{"i":168.7,"v":52.6},{"i":170.3,"v":47.4},{"i":172.0,"v":50.5},{"i":173.6,"v":57.9},{"i":175.3,"v":56.8},{"i":176.9,"v":45.3},{"i":178.6,"v":38.9},{"i":180.2,"v":37.9},{"i":181.9,"v":44.2},{"i":183.5,"v":45.3},{"i":185.2,"v":37.9},{"i":186.9,"v":32.6},{"i":188.5,"v":35.8},{"i":190.2,"v":31.6},{"i":191.8,"v":40.0},{"i":193.5,"v":55.8},{"i":195.1,"v":54.7},{"i":196.8,"v":48.4},{"i":198.4,"v":51.6},{"i":200.1,"v":49.5},{"i":201.7,"v":46.3},{"i":203.4,"v":44.2},{"i":205.0,"v":48.4},{"i":206.7,"v":41.1},{"i":208.4,"v":44.2},{"i":210.0,"v":50.5},{"i":211.7,"v":47.4},{"i":213.3,"v":41.1},{"i":215.0,"v":44.2},{"i":216.6,"v":47.4},{"i":218.3,"v":45.3},{"i":219.9,"v":49.5},{"i":221.6,"v":48.4},{"i":223.2,"v":46.3},{"i":224.9,"v":53.7},{"i":226.5,"v":47.4},{"i":228.2,"v":44.2},{"i":229.9,"v":38.9},{"i":231.5,"v":32.6},{"i":233.2,"v":41.1},{"i":234.8,"v":48.4},{"i":236.5,"v":51.6},{"i":238.1,"v":48.4},{"i":239.8,"v":49.5},{"i":241.4,"v":51.6},{"i":243.1,"v":44.2},{"i":244.7,"v":48.4},{"i":246.4,"v":54.7},{"i":248.0,"v":61.1},{"i":249.7,"v":64.2},{"i":251.3,"v":54.7},{"i":253.0,"v":57.9},{"i":254.6,"v":53.7},{"i":256.3,"v":56.8},{"i":258.0,"v":61.1},{"i":259.6,"v":65.3},{"i":261.3,"v":71.6},{"i":262.9,"v":61.1},{"i":264.6,"v":57.9},{"i":266.2,"v":60.0},{"i":267.9,"v":55.8},{"i":269.5,"v":61.1},{"i":271.2,"v":57.9},{"i":272.8,"v":51.6},{"i":274.5,"v":58.9},{"i":276.1,"v":63.2},{"i":277.8,"v":61.1},{"i":279.5,"v":56.8},{"i":281.1,"v":69.5},{"i":282.8,"v":78.9},{"i":284.4,"v":82.1},{"i":286.1,"v":89.5},{"i":287.1,"v":90.5},{"i":288.4,"v":71.6},{"i":289.7,"v":77.9},{"i":291.0,"v":81.1},{"i":292.7,"v":75.8},{"i":294.3,"v":72.6},{"i":296.0,"v":65.3},{"i":297.6,"v":63.2},{"i":299.0,"v":55.8},{"i":300.3,"v":58.9},{"i":301.6,"v":63.2},{"i":302.9,"v":69.5},{"i":304.3,"v":69.5},{"i":305.9,"v":71.6},{"i":307.6,"v":67.4},{"i":308.9,"v":56.8},{"i":310.2,"v":51.6},{"i":311.5,"v":50.5},{"i":313.5,"v":48.4},{"i":314.8,"v":46.3},{"i":316.2,"v":42.5},{"i":317.5,"v":48.4},{"i":319.1,"v":52.6},{"i":320.8,"v":53.7},{"i":322.4,"v":53.7},{"i":324.1,"v":63.2},{"i":325.7,"v":58.9},{"i":327.4,"v":56.8},{"i":329.0,"v":50.5},{"i":330.7,"v":47.4},{"i":332.4,"v":50.5},{"i":334.0,"v":52.6},{"i":335.7,"v":55.8},{"i":337.3,"v":57.9},{"i":339.0,"v":55.8},{"i":340.6,"v":50.5},{"i":342.3,"v":46.3},{"i":343.9,"v":43.2},{"i":345.6,"v":40.0},{"i":347.2,"v":38.9},{"i":348.9,"v":44.2},{"i":350.6,"v":49.5},{"i":352.2,"v":45.3},{"i":353.9,"v":43.2},{"i":355.5,"v":38.9},{"i":357.2,"v":36.8},{"i":358.8,"v":32.6},{"i":360.5,"v":30.5},{"i":362.1,"v":32.6},{"i":363.8,"v":28.4},{"i":365.4,"v":29.5},{"i":367.1,"v":29.9},{"i":368.7,"v":27.4},{"i":370.4,"v":28.4},{"i":372.0,"v":30.5},{"i":373.7,"v":43.2},{"i":375.4,"v":38.9},{"i":377.0,"v":50.5},{"i":378.7,"v":55.8},{"i":380.3,"v":58.9},{"i":382.0,"v":63.2},{"i":383.6,"v":68.4},{"i":385.3,"v":73.7},{"i":386.3,"v":70.5},{"i":387.6,"v":51.6},{"i":388.6,"v":49.5},{"i":390.2,"v":56.8},{"i":391.9,"v":44.2},{"i":393.5,"v":43.2},{"i":395.2,"v":47.4},{"i":396.8,"v":52.6},{"i":398.5,"v":51.6},{"i":400.1,"v":50.5}
    ]
  },
  "vconcat": [
    {
      "width": 1804,
      "height": 669,
      "resolve": {"axis": {"x": "independent", "y": "independent"}, "scale": {"color": "independent"}},
      "layer": [
        {
          "data": {"values": [{}]},
          "mark": {"type": "rect", "color": "#787b86", "opacity": 0.12},
          "encoding": {
            "x": {"datum": 245, "type": "quantitative", "scale": {"domain": [-0.55, 496], "nice": false, "zero": false},
              "axis": {"values": [28, 71, 113, 136, 178, 201, 242, 282, 305, 347, 391, 415, 440, 466, 492], "labels": false, "grid": true, "title": null}},
            "x2": {"datum": 309.4},
            "y": {"datum": 56.092, "type": "quantitative", "scale": {"domain": [48.48, 128.48], "nice": false, "zero": false},
              "axis": {"orient": "right", "values": [52, 56, 60, 64, 68, 72, 76, 80, 84, 88, 92, 96, 100, 104, 108, 112, 116, 120, 124, 128], "format": ".3f", "grid": true, "labelPadding": 8, "title": null}},
            "y2": {"datum": 117.563}
          }
        },
        {
          "data": {"values": [{}]},
          "mark": {"type": "rule", "color": "#e0e3eb", "strokeWidth": 2},
          "encoding": {
            "x": {"datum": -1.1, "type": "quantitative", "scale": {"domain": [-0.55, 496], "nice": false, "zero": false}, "axis": null},
            "x2": {"datum": 512.2},
            "y": {"datum": 128.6, "type": "quantitative", "scale": {"domain": [48.48, 128.48], "nice": false, "zero": false}, "axis": null}
          }
        },
        {
          "data": {"values": [{}]},
          "mark": {"type": "rule", "color": "#e0e3eb", "strokeWidth": 2},
          "encoding": {
            "x": {"datum": -1.1, "type": "quantitative", "scale": {"domain": [-0.55, 496], "nice": false, "zero": false}, "axis": null},
            "y": {"datum": 48.2, "type": "quantitative", "scale": {"domain": [48.48, 128.48], "nice": false, "zero": false}, "axis": null},
            "y2": {"datum": 128.6}
          }
        },
        {
          "data": {"values": [{}]},
          "mark": {"type": "rule", "color": "#e0e3eb", "strokeWidth": 2},
          "encoding": {
            "x": {"datum": 512.2, "type": "quantitative", "scale": {"domain": [-0.55, 496], "nice": false, "zero": false}, "axis": null},
            "y": {"datum": 48.2, "type": "quantitative", "scale": {"domain": [48.48, 128.48], "nice": false, "zero": false}, "axis": null},
            "y2": {"datum": 128.6}
          }
        },
        {
          "data": {"values": [{}]},
          "mark": {"type": "rule", "color": "#b2b5be", "strokeDash": [4, 4], "strokeWidth": 1},
          "encoding": {
            "x": {"datum": 245, "type": "quantitative", "scale": {"domain": [-0.55, 496], "nice": false, "zero": false}, "axis": null},
            "x2": {"datum": 309},
            "y": {"datum": 56.092, "type": "quantitative", "scale": {"domain": [48.48, 128.48], "nice": false, "zero": false}, "axis": null},
            "y2": {"datum": 117.563}
          }
        },
        {
          "data": {"name": "fib"},
          "mark": {"type": "rule", "color": "#b2b5be", "strokeWidth": 2.5},
          "encoding": {
            "x": {"datum": 245, "type": "quantitative", "scale": {"domain": [-0.55, 496], "nice": false, "zero": false}, "axis": null},
            "x2": {"datum": 309.4},
            "y": {"field": "p", "type": "quantitative", "scale": {"domain": [48.48, 128.48], "nice": false, "zero": false}, "axis": null}
          }
        },
        {
          "data": {"name": "fib"},
          "mark": {"type": "text", "align": "right", "baseline": "middle", "color": "#a9acb5", "fontSize": 12.5},
          "encoding": {
            "x": {"datum": 243, "type": "quantitative", "scale": {"domain": [-0.55, 496], "nice": false, "zero": false}, "axis": null},
            "y": {"field": "p", "type": "quantitative", "scale": {"domain": [48.48, 128.48], "nice": false, "zero": false}, "axis": null},
            "text": {"field": "t"}
          }
        },
        {
          "data": {"name": "ma"},
          "mark": {"type": "line", "strokeWidth": 1.3, "interpolate": "monotone"},
          "encoding": {
            "x": {"field": "i", "type": "quantitative", "scale": {"domain": [-0.55, 496], "nice": false, "zero": false}, "axis": null},
            "y": {"field": "v", "type": "quantitative", "scale": {"domain": [48.48, 128.48], "nice": false, "zero": false}, "axis": null},
            "color": {"field": "s", "type": "nominal", "scale": {"domain": ["b", "o", "r"], "range": ["#42a5f5", "#ffa726", "#f26d6d"]}, "legend": null}
          }
        },
        {
          "data": {"name": "tl"},
          "mark": {"type": "line", "color": "#131722", "strokeWidth": 2.5},
          "encoding": {
            "x": {"field": "i", "type": "quantitative", "scale": {"domain": [-0.55, 496], "nice": false, "zero": false}, "axis": null},
            "y": {"field": "p", "type": "quantitative", "scale": {"domain": [48.48, 128.48], "nice": false, "zero": false}, "axis": null},
            "detail": {"field": "k"}
          }
        },
        {
          "data": {"name": "bars"},
          "mark": {"type": "rule", "strokeWidth": 1},
          "encoding": {
            "x": {"field": "i", "type": "quantitative", "scale": {"domain": [-0.55, 496], "nice": false, "zero": false}, "axis": null},
            "y": {"field": "l", "type": "quantitative", "scale": {"domain": [48.48, 128.48], "nice": false, "zero": false}, "axis": null},
            "y2": {"field": "h"},
            "color": {"condition": {"test": "datum.c >= datum.o", "value": "#0a8f64"}, "value": "#e3140f"}
          }
        },
        {
          "data": {"name": "bars"},
          "mark": {"type": "bar", "width": 2.4},
          "encoding": {
            "x": {"field": "i", "type": "quantitative", "scale": {"domain": [-0.55, 496], "nice": false, "zero": false}, "axis": null},
            "y": {"field": "o", "type": "quantitative", "scale": {"domain": [48.48, 128.48], "nice": false, "zero": false}, "axis": null},
            "y2": {"field": "c"},
            "color": {"condition": {"test": "datum.c >= datum.o", "value": "#0a8f64"}, "value": "#e3140f"}
          }
        },
        {
          "data": {"values": [{}]},
          "mark": {"type": "rule", "color": "#089981", "strokeDash": [1.5, 2.5], "strokeWidth": 1},
          "encoding": {
            "x": {"datum": -0.55, "type": "quantitative", "scale": {"domain": [-0.55, 496], "nice": false, "zero": false}, "axis": null},
            "x2": {"datum": 483.1},
            "y": {"datum": 81.31, "type": "quantitative", "scale": {"domain": [48.48, 128.48], "nice": false, "zero": false}, "axis": null}
          }
        },
        {
          "data": {"values": [{}]},
          "mark": {"type": "rect", "color": "#089981", "cornerRadius": 2},
          "encoding": {
            "x": {"datum": 483.1, "type": "quantitative", "scale": {"domain": [-0.55, 496], "nice": false, "zero": false}, "axis": null},
            "x2": {"datum": 496.3},
            "y": {"datum": 80.17, "type": "quantitative", "scale": {"domain": [48.48, 128.48], "nice": false, "zero": false}, "axis": null},
            "y2": {"datum": 82.2}
          }
        },
        {
          "data": {"values": [{}]},
          "mark": {"type": "rect", "color": "#089981", "cornerRadius": 2},
          "encoding": {
            "x": {"datum": 496.8, "type": "quantitative", "scale": {"domain": [-0.55, 496], "nice": false, "zero": false}, "axis": null},
            "x2": {"datum": 510.3},
            "y": {"datum": 80.17, "type": "quantitative", "scale": {"domain": [48.48, 128.48], "nice": false, "zero": false}, "axis": null},
            "y2": {"datum": 82.2}
          }
        },
        {
          "data": {"values": [{}]},
          "mark": {"type": "text", "color": "white", "fontSize": 12.5, "fontWeight": 500, "align": "center", "baseline": "middle"},
          "encoding": {
            "x": {"datum": 489.7, "type": "quantitative", "scale": {"domain": [-0.55, 496], "nice": false, "zero": false}, "axis": null},
            "y": {"datum": 81.19, "type": "quantitative", "scale": {"domain": [48.48, 128.48], "nice": false, "zero": false}, "axis": null},
            "text": {"value": "OILUSD"}
          }
        },
        {
          "data": {"values": [{}]},
          "mark": {"type": "text", "color": "white", "fontSize": 12.5, "fontWeight": 500, "align": "center", "baseline": "middle"},
          "encoding": {
            "x": {"datum": 503.5, "type": "quantitative", "scale": {"domain": [-0.55, 496], "nice": false, "zero": false}, "axis": null},
            "y": {"datum": 81.19, "type": "quantitative", "scale": {"domain": [48.48, 128.48], "nice": false, "zero": false}, "axis": null},
            "text": {"value": "81.310"}
          }
        },
        {
          "data": {"name": "hdr"},
          "mark": {"type": "text", "align": "left", "baseline": "middle", "fontSize": 11.5},
          "encoding": {
            "x": {"field": "i", "type": "quantitative", "scale": {"domain": [-0.55, 496], "nice": false, "zero": false}, "axis": null},
            "y": {"datum": 126.8, "type": "quantitative", "scale": {"domain": [48.48, 128.48], "nice": false, "zero": false}, "axis": null},
            "text": {"field": "t"},
            "color": {"field": "g", "type": "nominal", "scale": {"domain": ["k", "v"], "range": ["#131722", "#089981"]}, "legend": null}
          }
        }
      ]
    },
    {
      "width": 1804,
      "height": 176,
      "resolve": {"axis": {"x": "independent", "y": "independent"}, "scale": {"color": "independent"}},
      "layer": [
        {
          "data": {"name": "bars"},
          "transform": [{"window": [{"op": "lag", "field": "m", "as": "pm"}], "sort": [{"field": "i", "order": "ascending"}]}],
          "mark": {"type": "bar", "width": 2},
          "encoding": {
            "x": {"field": "i", "type": "quantitative", "scale": {"domain": [-0.55, 496], "nice": false, "zero": false},
              "axis": {"values": [28, 71, 113, 136, 178, 201, 242, 282, 305, 347, 391, 415, 440, 466, 492], "labels": false, "grid": true, "title": null}},
            "y": {"field": "m", "type": "quantitative", "scale": {"domain": [-8.39, 11.17], "nice": false, "zero": false},
              "axis": {"orient": "right", "values": [-8, -4, 0, 4, 8], "format": ".3f", "grid": true, "labelPadding": 8, "title": null}},
            "y2": {"datum": 0},
            "color": {
              "condition": [
                {"test": "datum.m >= 0 && (datum.pm == null || datum.m >= datum.pm)", "value": "#26a69a"},
                {"test": "datum.m >= 0", "value": "#b2dfdb"},
                {"test": "datum.pm == null || datum.m < datum.pm", "value": "#ff5252"}
              ],
              "value": "#ffcdd2"
            }
          }
        },
        {
          "data": {"name": "macd"},
          "mark": {"type": "line", "strokeWidth": 1.5, "interpolate": "monotone"},
          "encoding": {
            "x": {"field": "i", "type": "quantitative", "scale": {"domain": [-0.55, 496], "nice": false, "zero": false}, "axis": null},
            "y": {"field": "v", "type": "quantitative", "scale": {"domain": [-8.39, 11.17], "nice": false, "zero": false}, "axis": null},
            "color": {"field": "s", "type": "nominal", "scale": {"domain": ["m", "s"], "range": ["#2196f3", "#ff6d00"]}, "legend": null}
          }
        },
        {
          "data": {"values": [{}]},
          "mark": {"type": "rule", "color": "#e0e3eb", "strokeWidth": 2},
          "encoding": {
            "x": {"datum": -1.1, "type": "quantitative", "scale": {"domain": [-0.55, 496], "nice": false, "zero": false}, "axis": null},
            "x2": {"datum": 512.2},
            "y": {"datum": 11.28, "type": "quantitative", "scale": {"domain": [-8.39, 11.17], "nice": false, "zero": false}, "axis": null}
          }
        },
        {
          "data": {"values": [{}]},
          "mark": {"type": "rule", "color": "#e0e3eb", "strokeWidth": 2},
          "encoding": {
            "x": {"datum": -1.1, "type": "quantitative", "scale": {"domain": [-0.55, 496], "nice": false, "zero": false}, "axis": null},
            "y": {"datum": -8.7, "type": "quantitative", "scale": {"domain": [-8.39, 11.17], "nice": false, "zero": false}, "axis": null},
            "y2": {"datum": 11.3}
          }
        },
        {
          "data": {"values": [{}]},
          "mark": {"type": "rule", "color": "#e0e3eb", "strokeWidth": 2},
          "encoding": {
            "x": {"datum": 512.2, "type": "quantitative", "scale": {"domain": [-0.55, 496], "nice": false, "zero": false}, "axis": null},
            "y": {"datum": -8.7, "type": "quantitative", "scale": {"domain": [-8.39, 11.17], "nice": false, "zero": false}, "axis": null},
            "y2": {"datum": 11.3}
          }
        }
      ]
    },
    {
      "width": 1804,
      "height": 119,
      "resolve": {"axis": {"x": "independent", "y": "independent"}},
      "layer": [
        {
          "data": {"values": [{}]},
          "mark": {"type": "rect", "color": "#7e57c2", "opacity": 0.1},
          "encoding": {
            "x": {"datum": -0.55, "type": "quantitative", "scale": {"domain": [-0.55, 496], "nice": false, "zero": false},
              "axis": {
                "values": [28, 71, 113, 136, 178, 201, 242, 282, 305, 347, 391, 415, 440, 466, 492],
                "labelExpr": "['Mar','May','Jul','Aug','Oct','Nov','2026','Mar','Apr','Jun','Aug','Sep','Oct','Nov','Dec'][indexof([28,71,113,136,178,201,242,282,305,347,391,415,440,466,492], datum.value)]",
                "labelFontWeight": {"condition": {"test": "datum.value == 242", "value": "bold"}, "value": "normal"},
                "grid": true, "labelPadding": 9,
                "title": "TradingView", "titleAnchor": "start", "titleAlign": "left", "titleBaseline": "middle",
                "titleX": 18, "titleY": 47, "titleFontSize": 13, "titleFontWeight": 600, "titleColor": "#131722", "titleFont": "Roboto"
              }},
            "x2": {"datum": 496},
            "y": {"datum": 30, "type": "quantitative", "scale": {"domain": [21.69, 96.87], "nice": false, "zero": false},
              "axis": {"orient": "right", "values": [40, 60, 80], "format": ".2f", "grid": true, "labelPadding": 8, "title": null}},
            "y2": {"datum": 70}
          }
        },
        {
          "data": {"values": [{"v": 30}, {"v": 70}]},
          "mark": {"type": "rule", "color": "#787b86", "strokeDash": [3, 3], "strokeWidth": 1},
          "encoding": {
            "x": {"datum": -0.55, "type": "quantitative", "scale": {"domain": [-0.55, 496], "nice": false, "zero": false}, "axis": null},
            "x2": {"datum": 496},
            "y": {"field": "v", "type": "quantitative", "scale": {"domain": [21.69, 96.87], "nice": false, "zero": false}, "axis": null}
          }
        },
        {
          "data": {"name": "rsi"},
          "mark": {"type": "line", "color": "#7e57c2", "strokeWidth": 1},
          "encoding": {
            "x": {"field": "i", "type": "quantitative", "scale": {"domain": [-0.55, 496], "nice": false, "zero": false}, "axis": null},
            "y": {"field": "v", "type": "quantitative", "scale": {"domain": [21.69, 96.87], "nice": false, "zero": false}, "axis": null}
          }
        },
        {
          "data": {"values": [{}]},
          "mark": {"type": "rule", "color": "#e0e3eb", "strokeWidth": 2},
          "encoding": {
            "x": {"datum": -1.1, "type": "quantitative", "scale": {"domain": [-0.55, 496], "nice": false, "zero": false}, "axis": null},
            "x2": {"datum": 512.2},
            "y": {"datum": 97.5, "type": "quantitative", "scale": {"domain": [21.69, 96.87], "nice": false, "zero": false}, "axis": null}
          }
        },
        {
          "data": {"values": [{}]},
          "mark": {"type": "rule", "color": "#e0e3eb", "strokeWidth": 2},
          "encoding": {
            "x": {"datum": -1.1, "type": "quantitative", "scale": {"domain": [-0.55, 496], "nice": false, "zero": false}, "axis": null},
            "x2": {"datum": 512.2},
            "y": {"datum": 2.75, "type": "quantitative", "scale": {"domain": [21.69, 96.87], "nice": false, "zero": false}, "axis": null}
          }
        },
        {
          "data": {"values": [{}]},
          "mark": {"type": "rule", "color": "#e0e3eb", "strokeWidth": 2},
          "encoding": {
            "x": {"datum": -1.1, "type": "quantitative", "scale": {"domain": [-0.55, 496], "nice": false, "zero": false}, "axis": null},
            "y": {"datum": 2.75, "type": "quantitative", "scale": {"domain": [21.69, 96.87], "nice": false, "zero": false}, "axis": null},
            "y2": {"datum": 97.5}
          }
        },
        {
          "data": {"values": [{}]},
          "mark": {"type": "rule", "color": "#e0e3eb", "strokeWidth": 2},
          "encoding": {
            "x": {"datum": 512.2, "type": "quantitative", "scale": {"domain": [-0.55, 496], "nice": false, "zero": false}, "axis": null},
            "y": {"datum": 2.75, "type": "quantitative", "scale": {"domain": [21.69, 96.87], "nice": false, "zero": false}, "axis": null},
            "y2": {"datum": 97.5}
          }
        }
      ]
    }
  ]
}
